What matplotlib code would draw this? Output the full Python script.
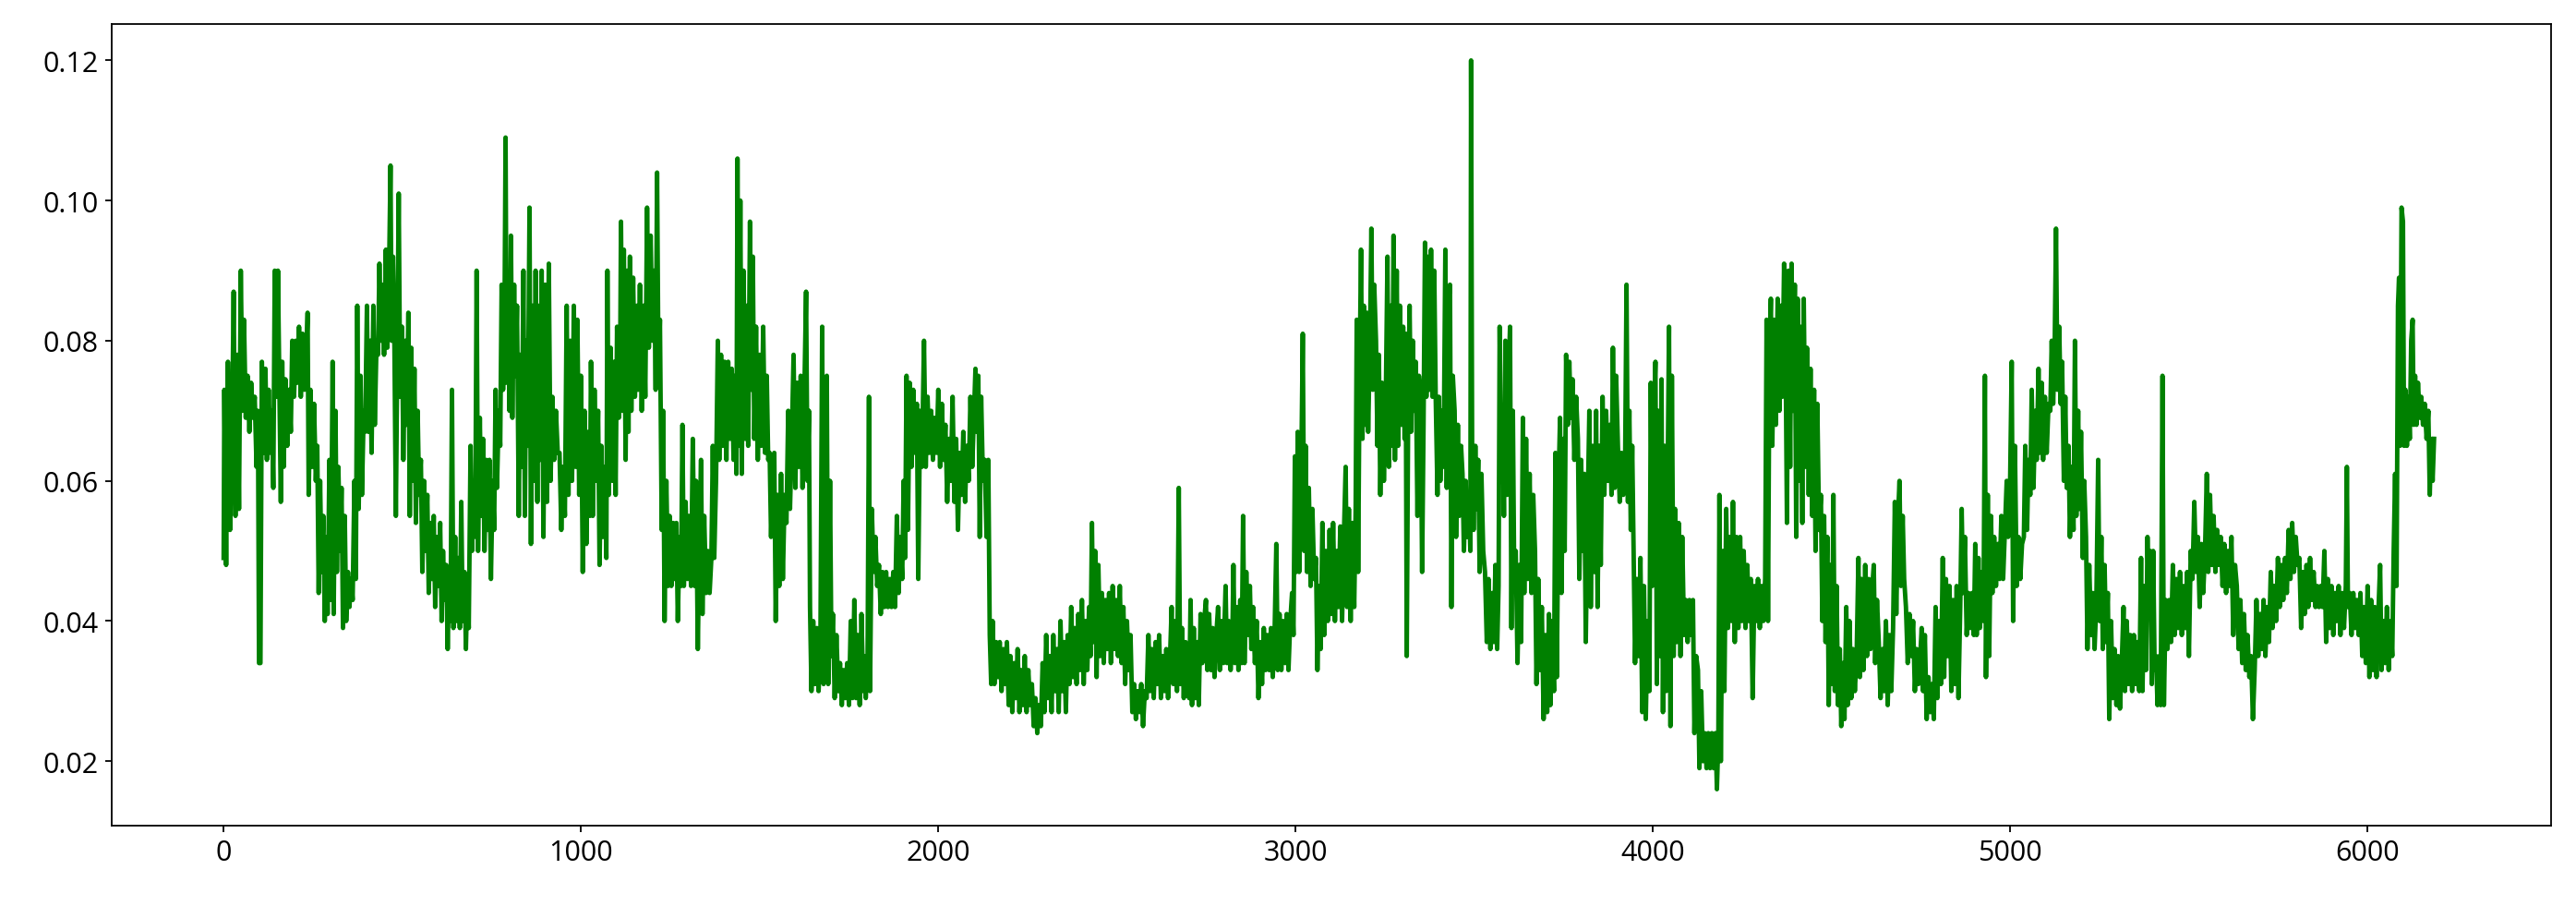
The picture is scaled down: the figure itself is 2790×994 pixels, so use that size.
import numpy as np
import matplotlib
matplotlib.use("Agg")
import matplotlib.pyplot as plt

# Series, split by stretch of the x axis.
# Each entry is (sample index, value); the values alternate between the
# upper and lower edge of the noisy band.
seg_0000 = [
    (0, .049), (2, .073), (7, .048), (12, .077), (18, .053), (24, .069), (28, .087), (33, .055),
    (38, .078), (43, .056), (48, .090), (53, .070), (57, .083), (62, .069), (67, .075), (72, .067),
    (77, .074), (82, .069), (87, .072), (92, .062), (96, .070), (99, .034), (103, .034), (107, .077),
    (112, .064), (117, .076), (121, .063), (126, .073), (131, .064), (135, .070), (139, .059), (143, .090),
    (148, .072), (152, .090), (156, .073), (160, .057), (164, .077), (168, .062), (173, .0745), (178, .065),
    (183, .073), (188, .067), (192, .080), (197, .072), (202, .080), (206, .074), (211, .082), (216, .072),
    (221, .081), (226, .073), (231, .077), (235, .084), (238, .058), (243, .073), (248, .062), (253, .071),
    (258, .060), (262, .065), (266, .044), (270, .060), (274, .047), (279, .055), (283, .040), (287, .052),
    (291, .041), (296, .063), (300, .043), (305, .077), (308, .041), (313, .070), (317, .047), (321, .062),
    (326, .050), (330, .059), (334, .039), (339, .055), (343, .040), (348, .047), (352, .042), (357, .046),
    (361, .043), (366, .060), (370, .046), (374, .085), (378, .056), (383, .075), (387, .058), (392, .070),
    (396, .067), (401, .085), (405, .067), (410, .080), (414, .064), (419, .085), (423, .068), (428, .080),
    (432, .078), (436, .091), (440, .080), (445, .088), (449, .078), (454, .093), (458, .079), (463, .090),
    (467, .105), (470, .080), (474, .092), (478, .079), (482, .055), (486, .078), (490, .101), (494, .072),
    (499, .082), (503, .063), (508, .080), (512, .068), (517, .084), (521, .055), (525, .079), (530, .060),
    (534, .076), (538, .054), (543, .070), (547, .058), (552, .063), (556, .047), (561, .060), (565, .050),
    (570, .058), (574, .044), (579, .054), (583, .046), (588, .055), (592, .042), (597, .052), (601, .045),
    (606, .054), (610, .040), (614, .050), (618, .043), (623, .048), (627, .036), (631, .046), (635, .040),
    (639, .073), (643, .039), (648, .052), (652, .040), (657, .049), (661, .039), (665, .057), (669, .040),
    (674, .047), (678, .036), (682, .045), (686, .039), (691, .065), (695, .050), (700, .060), (704, .052),
    (708, .090), (712, .050), (717, .069), (721, .055), (726, .066), (730, .050), (735, .063), (739, .053),
    (744, .063), (748, .046), (753, .060), (757, .053), (761, .073), (765, .059), (770, .070), (774, .065),
    (778, .088), (782, .073), (786, .083), (789, .109), (792, .074), (796, .085), (800, .070), (804, .095),
    (808, .069), (813, .088), (817, .075), (821, .085), (826, .055), (830, .078), (834, .062), (839, .090),
    (843, .055), (847, .080), (851, .065), (856, .099), (860, .051), (864, .085), (869, .060), (873, .090),
    (878, .057), (882, .085), (886, .063),
]

seg_0890 = [
    (890, .090), (895, .052), (900, .088), (905, .057), (910, .091), (915, .060), (920, .072), (925, .063),
    (930, .070), (935, .064), (940, .064), (945, .053), (950, .062), (955, .055), (960, .085), (965, .058),
    (970, .080), (975, .060), (980, .085), (985, .062), (990, .083), (995, .058), (1000, .075), (1005, .047),
    (1010, .070), (1015, .051), (1020, .067), (1025, .055), (1028, .077), (1033, .055), (1038, .073), (1043, .060),
    (1048, .070), (1052, .048), (1057, .065), (1062, .052), (1067, .062), (1071, .049), (1074, .090), (1078, .058),
    (1083, .079), (1088, .060), (1093, .077), (1097, .058), (1101, .082), (1106, .069), (1110, .080), (1112, .097),
    (1116, .070), (1120, .093), (1125, .063), (1129, .090), (1133, .067), (1137, .092), (1141, .070), (1146, .089),
    (1151, .072), (1156, .085), (1160, .073), (1165, .088), (1170, .070), (1175, .085), (1180, .072), (1185, .099),
    (1190, .079), (1195, .095), (1200, .080), (1205, .090), (1209, .073), (1213, .104), (1217, .075), (1221, .083),
    (1226, .053), (1230, .070), (1234, .040), (1239, .060), (1244, .045), (1248, .055), (1253, .045), (1258, .054),
    (1262, .046), (1267, .054), (1271, .040), (1276, .052), (1280, .045), (1284, .068), (1288, .045), (1293, .057),
    (1298, .046), (1303, .055), (1308, .045), (1313, .066), (1318, .045), (1322, .060), (1327, .036), (1331, .050),
    (1336, .063), (1340, .041), (1345, .055), (1350, .044), (1355, .050), (1360, .044), (1365, .049), (1369, .065),
    (1373, .049), (1378, .060), (1383, .080), (1387, .063), (1392, .078), (1397, .065), (1402, .077), (1407, .063),
    (1412, .077), (1417, .066), (1422, .076), (1427, .063), (1432, .075), (1435, .061), (1438, .106), (1442, .065),
    (1446, .100), (1450, .061), (1455, .090), (1460, .066), (1464, .085), (1468, .065), (1473, .097), (1477, .073),
    (1481, .092), (1485, .066), (1490, .082), (1495, .063), (1500, .078), (1505, .065), (1510, .082), (1515, .064),
    (1520, .075), (1524, .063), (1528, .064), (1532, .052), (1537, .062), (1541, .064), (1545, .040), (1550, .058),
    (1555, .045), (1560, .061), (1565, .046), (1570, .058), (1575, .054), (1580, .070), (1585, .056), (1590, .066),
    (1595, .078), (1600, .059), (1605, .074), (1610, .062), (1615, .075), (1620, .059), (1625, .072), (1630, .087),
    (1634, .060), (1638, .070), (1641, .042), (1645, .030), (1650, .040), (1655, .031), (1660, .039), (1665, .030),
    (1670, .036), (1675, .082), (1679, .031), (1684, .070), (1688, .075), (1692, .031), (1697, .060), (1701, .035),
    (1705, .041), (1710, .029), (1715, .038), (1720, .030), (1725, .034), (1730, .028), (1735, .033), (1740, .029),
    (1745, .034), (1750, .028), (1755, .040), (1760, .029), (1765, .043), (1770, .029), (1775, .038), (1780, .028),
    (1785, .041), (1790, .030),
]

seg_1794 = [
    (1794, .035), (1797, .029), (1802, .034), (1806, .072), (1809, .030), (1814, .056), (1819, .047), (1824, .052),
    (1829, .045), (1834, .048), (1839, .041), (1844, .047), (1849, .042), (1854, .047), (1859, .042), (1864, .046),
    (1869, .042), (1874, .047), (1879, .042), (1884, .055), (1889, .044), (1894, .052), (1899, .046), (1903, .060),
    (1907, .049), (1911, .075), (1915, .053), (1920, .074), (1925, .062), (1930, .073), (1935, .064), (1940, .071),
    (1944, .046), (1949, .070), (1954, .062), (1960, .080), (1965, .062), (1970, .072), (1975, .064), (1980, .070),
    (1985, .063), (1990, .069), (1995, .064), (2000, .073), (2005, .062), (2010, .071), (2015, .063), (2020, .068),
    (2025, .057), (2030, .066), (2035, .060), (2040, .072), (2045, .057), (2050, .066), (2055, .053), (2060, .064),
    (2065, .058), (2070, .067), (2075, .057), (2080, .065), (2085, .060), (2090, .072), (2095, .062), (2100, .070),
    (2104, .076), (2108, .067), (2112, .075), (2116, .052), (2120, .072), (2125, .060), (2130, .063), (2135, .052),
    (2140, .063), (2144, .038), (2148, .031), (2152, .040), (2157, .031), (2162, .037), (2167, .032), (2172, .037),
    (2177, .030), (2182, .036), (2187, .031), (2192, .037), (2197, .028), (2202, .035), (2207, .027), (2212, .034),
    (2217, .029), (2222, .036), (2227, .027), (2232, .033), (2237, .028), (2242, .035), (2247, .027), (2252, .033),
    (2257, .028), (2262, .031), (2267, .025), (2272, .029), (2277, .024), (2282, .028), (2287, .025), (2292, .034),
    (2297, .027), (2302, .038), (2307, .029), (2312, .035), (2317, .027), (2322, .038), (2327, .030), (2332, .036),
    (2337, .027), (2342, .040), (2347, .030), (2352, .037), (2357, .027), (2362, .038), (2367, .031), (2372, .042),
    (2377, .032), (2382, .039), (2387, .031), (2392, .041), (2397, .033), (2402, .043), (2407, .031), (2412, .040),
    (2417, .033), (2422, .042), (2426, .035), (2430, .054), (2434, .037), (2439, .050), (2443, .032), (2448, .048),
    (2453, .035), (2458, .044), (2463, .034), (2468, .043), (2473, .036), (2478, .044), (2483, .034), (2488, .045),
    (2493, .036), (2498, .043), (2503, .035), (2508, .045), (2513, .034), (2518, .042), (2523, .031), (2528, .040),
    (2533, .033), (2538, .038), (2543, .027), (2548, .031), (2553, .026), (2558, .030), (2563, .027), (2568, .031),
    (2573, .025), (2578, .030), (2583, .029), (2588, .038), (2593, .030), (2598, .036), (2603, .029), (2608, .037),
    (2613, .031), (2618, .038), (2623, .029), (2628, .035), (2633, .030), (2638, .036), (2643, .029), (2648, .034),
    (2653, .042), (2658, .031), (2663, .040), (2668, .030), (2673, .059), (2677, .031), (2682, .039), (2687, .029),
    (2692, .037),
]

seg_2698 = [
    (2698, .035), (2702, .029), (2706, .043), (2710, .028), (2715, .039), (2720, .029), (2725, .037), (2729, .028),
    (2734, .041), (2739, .034), (2744, .040), (2749, .043), (2753, .033), (2758, .041), (2763, .033), (2768, .039),
    (2773, .032), (2778, .038), (2783, .042), (2788, .033), (2793, .040), (2798, .034), (2804, .045), (2808, .034),
    (2813, .040), (2818, .033), (2823, .038), (2826, .048), (2830, .034), (2835, .042), (2840, .033), (2845, .043),
    (2849, .034), (2853, .055), (2857, .034), (2862, .047), (2867, .038), (2872, .045), (2876, .036), (2881, .042),
    (2886, .034), (2891, .040), (2896, .029), (2901, .037), (2906, .031), (2911, .039), (2916, .033), (2921, .038),
    (2926, .033), (2931, .039), (2936, .032), (2941, .038), (2946, .051), (2950, .033), (2955, .041), (2960, .033),
    (2965, .040), (2970, .034), (2975, .041), (2980, .033), (2985, .040), (2990, .044), (2994, .038), (2998, .0635),
    (3002, .047), (3006, .067), (3010, .047), (3015, .058), (3020, .081), (3024, .050), (3028, .065), (3032, .047),
    (3037, .059), (3042, .045), (3047, .056), (3052, .046), (3057, .049), (3061, .033), (3066, .045), (3070, .036),
    (3075, .054), (3080, .038), (3085, .050), (3090, .040), (3095, .053), (3100, .041), (3105, .054), (3110, .040),
    (3115, .050), (3120, .042), (3125, .0535), (3130, .040), (3135, .052), (3140, .062), (3144, .042), (3149, .056),
    (3154, .040), (3159, .054), (3164, .042), (3168, .056), (3171, .083), (3175, .047), (3179, .075), (3183, .093),
    (3187, .066), (3191, .085), (3195, .068), (3199, .084), (3203, .067), (3208, .080), (3212, .096), (3216, .073),
    (3220, .088), (3225, .080), (3229, .065), (3233, .078), (3237, .058), (3242, .074), (3247, .060), (3252, .070),
    (3257, .092), (3261, .062), (3266, .085), (3270, .065), (3274, .095), (3278, .063), (3283, .090), (3287, .065),
    (3292, .085), (3296, .068), (3301, .082), (3305, .066), (3308, .081), (3311, .035), (3315, .070), (3319, .085),
    (3323, .067), (3328, .080), (3332, .070), (3336, .077), (3341, .055), (3345, .075), (3350, .072), (3354, .047),
    (3358, .068), (3362, .094), (3366, .072), (3370, .092), (3375, .073), (3379, .093), (3383, .072), (3388, .090),
    (3392, .072), (3397, .058), (3401, .072), (3405, .060), (3410, .070), (3414, .062), (3419, .093), (3423, .059),
    (3427, .085), (3432, .088), (3436, .042), (3440, .075), (3445, .070), (3449, .052), (3454, .068), (3458, .055),
    (3463, .065), (3467, .061), (3471, .050), (3476, .060), (3480, .052), (3485, .058), (3489, .050), (3491, .120),
    (3494, .064), (3498, .053), (3503, .065), (3507, .056), (3511, .063), (3515, .047), (3520, .061), (3525, .050),
    (3530, .047), (3535, .037), (3540, .046), (3545, .036), (3550, .044), (3555, .037), (3559, .048), (3564, .036),
    (3568, .045), (3571, .082), (3575, .060), (3579, .070), (3583, .055), (3587, .080), (3592, .058), (3596, .075),
]

seg_3600 = [
    (3600, .082), (3604, .039), (3608, .070), (3612, .045), (3616, .050), (3621, .034), (3626, .048), (3631, .037),
    (3636, .069), (3640, .044), (3645, .066), (3650, .046), (3655, .061), (3660, .044), (3665, .058), (3670, .050),
    (3674, .031), (3679, .046), (3684, .033), (3689, .042), (3694, .026), (3699, .038), (3704, .027), (3709, .041),
    (3713, .028), (3718, .040), (3723, .030), (3727, .064), (3731, .032), (3736, .060), (3740, .069), (3744, .044),
    (3749, .066), (3753, .050), (3757, .078), (3762, .068), (3766, .077), (3770, .069), (3775, .0745), (3780, .063),
    (3785, .072), (3790, .066), (3794, .046), (3799, .063), (3803, .050), (3808, .061), (3812, .037), (3817, .055),
    (3822, .070), (3826, .042), (3831, .065), (3836, .047), (3841, .070), (3845, .042), (3850, .065), (3854, .048),
    (3859, .072), (3864, .058), (3869, .070), (3874, .060), (3879, .068), (3884, .058), (3888, .079), (3893, .059),
    (3897, .075), (3902, .065), (3907, .057), (3912, .064), (3917, .058), (3922, .062), (3926, .088), (3930, .057),
    (3934, .070), (3938, .053), (3942, .065), (3946, .049), (3950, .034), (3955, .046), (3960, .035), (3965, .049),
    (3970, .027), (3975, .045), (3980, .026), (3985, .040), (3990, .030), (3994, .074), (3998, .045), (4003, .070),
    (4007, .077), (4011, .031), (4015, .070), (4020, .035), (4024, .0745), (4028, .027), (4033, .065), (4037, .030),
    (4041, .060), (4045, .082), (4049, .025), (4053, .075), (4058, .035), (4062, .056), (4067, .037), (4072, .054),
    (4077, .035), (4082, .052), (4087, .038), (4092, .043), (4097, .037), (4102, .043), (4107, .038), (4112, .043),
    (4116, .024), (4121, .035), (4126, .033), (4130, .019), (4135, .030), (4140, .020), (4145, .024), (4150, .019),
    (4155, .024), (4160, .019), (4165, .024), (4170, .019), (4175, .024), (4179, .016), (4183, .023), (4186, .058),
    (4190, .020), (4195, .050), (4200, .030), (4205, .056), (4210, .039), (4215, .052), (4220, .040), (4224, .057),
    (4229, .037), (4234, .052), (4239, .039), (4244, .052), (4249, .040), (4254, .050), (4259, .039), (4264, .048),
    (4269, .040), (4274, .046), (4279, .029), (4284, .045), (4289, .040), (4294, .046), (4299, .039), (4304, .045),
    (4309, .040), (4314, .046), (4318, .083), (4322, .040), (4326, .078), (4330, .086), (4334, .065), (4339, .083),
    (4344, .068), (4349, .086), (4354, .070), (4358, .085), (4362, .072), (4367, .091), (4371, .080), (4375, .054),
    (4379, .090), (4384, .062), (4388, .091), (4392, .070), (4397, .088), (4401, .052), (4405, .086), (4410, .060),
    (4414, .082), (4418, .054), (4422, .086), (4427, .062), (4431, .079), (4436, .058), (4441, .076), (4446, .055),
    (4451, .073), (4455, .050), (4460, .071), (4465, .053), (4470, .058), (4474, .040), (4479, .055), (4483, .037),
    (4488, .052), (4492, .028), (4497, .048), (4501, .031),
]

seg_4505 = [
    (4505, .058), (4509, .030), (4514, .045), (4518, .028), (4523, .036), (4527, .025), (4532, .034), (4536, .026),
    (4541, .042), (4545, .028), (4550, .040), (4555, .029), (4560, .036), (4565, .030), (4570, .035), (4575, .049),
    (4579, .032), (4584, .046), (4589, .033), (4594, .048), (4599, .035), (4604, .046), (4609, .036), (4614, .045),
    (4618, .048), (4622, .034), (4627, .043), (4632, .037), (4637, .029), (4642, .036), (4647, .030), (4652, .040),
    (4657, .028), (4662, .038), (4667, .030), (4672, .039), (4677, .057), (4681, .041), (4686, .055), (4690, .060),
    (4694, .045), (4699, .055), (4703, .046), (4708, .042), (4713, .034), (4718, .041), (4723, .035), (4728, .040),
    (4733, .030), (4738, .036), (4743, .031), (4748, .035), (4752, .039), (4756, .030), (4761, .038), (4766, .026),
    (4771, .032), (4776, .027), (4781, .031), (4786, .026), (4791, .042), (4796, .029), (4801, .040), (4806, .031),
    (4811, .049), (4815, .032), (4820, .046), (4825, .035), (4830, .045), (4835, .030), (4840, .043), (4845, .031),
    (4850, .045), (4855, .029), (4860, .042), (4864, .056), (4868, .044), (4873, .052), (4878, .038), (4883, .044),
    (4888, .039), (4893, .044), (4898, .038), (4902, .051), (4906, .038), (4911, .049), (4915, .039), (4920, .047),
    (4925, .040), (4929, .075), (4932, .032), (4937, .058), (4941, .035), (4946, .055), (4950, .044), (4955, .052),
    (4960, .045), (4965, .051), (4970, .046), (4975, .055), (4980, .046), (4985, .053), (4990, .060), (4994, .052),
    (4999, .058), (5004, .077), (5008, .040), (5013, .065), (5018, .045), (5023, .052), (5028, .046), (5033, .051),
    (5038, .052), (5042, .065), (5047, .053), (5051, .063), (5056, .058), (5060, .073), (5065, .059), (5070, .070),
    (5074, .063), (5079, .076), (5083, .064), (5088, .074), (5092, .063), (5097, .072), (5102, .064), (5107, .071),
    (5112, .070), (5116, .080), (5120, .071), (5124, .078), (5128, .096), (5132, .073), (5137, .082), (5141, .071),
    (5145, .077), (5150, .060), (5154, .072), (5158, .059), (5163, .065), (5167, .052), (5172, .062), (5177, .053),
    (5181, .080), (5185, .055), (5190, .070), (5194, .056), (5198, .067), (5203, .049), (5207, .060), (5212, .052),
    (5216, .036), (5221, .048), (5226, .038), (5231, .044), (5236, .036), (5241, .043), (5246, .063), (5250, .040),
    (5255, .052), (5259, .036), (5264, .048), (5268, .037), (5273, .044), (5277, .026), (5282, .040), (5287, .029),
    (5292, .036), (5297, .028), (5302, .035), (5307, .0275), (5312, .034), (5317, .042), (5321, .030), (5326, .040),
    (5331, .031), (5336, .038), (5341, .030), (5346, .038), (5351, .031), (5356, .037), (5361, .030), (5366, .049),
    (5370, .030), (5375, .045), (5380, .033), (5384, .052), (5388, .041), (5392, .050), (5396, .031), (5400, .050),
    (5404, .033),
]

seg_5408 = [
    (5408, .035), (5412, .028), (5417, .035), (5421, .028), (5426, .075), (5430, .028), (5435, .043), (5440, .036),
    (5445, .043), (5450, .037), (5455, .048), (5460, .038), (5465, .046), (5470, .039), (5475, .047), (5480, .038),
    (5485, .045), (5490, .039), (5495, .047), (5500, .035), (5505, .050), (5510, .046), (5515, .057), (5520, .047),
    (5525, .052), (5530, .042), (5535, .051), (5540, .044), (5545, .050), (5550, .061), (5554, .047), (5559, .058),
    (5564, .048), (5569, .055), (5574, .047), (5579, .053), (5584, .048), (5589, .052), (5594, .045), (5599, .051),
    (5604, .044), (5609, .050), (5614, .045), (5619, .052), (5624, .038), (5629, .048), (5634, .045), (5639, .036),
    (5644, .043), (5649, .034), (5654, .041), (5659, .033), (5664, .038), (5669, .032), (5674, .035), (5679, .026),
    (5684, .033), (5689, .043), (5694, .035), (5699, .041), (5704, .036), (5709, .043), (5714, .035), (5719, .042),
    (5724, .037), (5729, .047), (5734, .039), (5739, .045), (5744, .040), (5749, .049), (5754, .042), (5759, .048),
    (5764, .043), (5769, .049), (5774, .044), (5779, .053), (5784, .046), (5789, .054), (5794, .047), (5799, .052),
    (5804, .048), (5809, .049), (5814, .039), (5819, .047), (5824, .041), (5829, .048), (5834, .042), (5839, .049),
    (5844, .043), (5849, .047), (5854, .042), (5859, .045), (5864, .042), (5869, .045), (5874, .042), (5879, .050),
    (5884, .037), (5889, .046), (5894, .039), (5899, .045), (5904, .038), (5909, .044), (5914, .040), (5919, .045),
    (5924, .038), (5929, .044), (5934, .039), (5939, .045), (5942, .062), (5945, .042), (5950, .044), (5955, .038),
    (5960, .044), (5965, .039), (5970, .043), (5975, .038), (5980, .044), (5985, .035), (5990, .042), (5995, .034),
    (6000, .045), (6005, .032), (6010, .043), (6015, .033), (6020, .042), (6025, .032), (6030, .041), (6035, .048),
    (6039, .033), (6044, .040), (6049, .034), (6054, .042), (6059, .033), (6064, .040), (6069, .035), (6073, .050),
    (6077, .061), (6081, .045), (6085, .085), (6088, .089), (6091, .065), (6095, .099), (6099, .097), (6102, .065),
    (6106, .073), (6110, .065), (6114, .072), (6118, .066), (6122, .080), (6126, .083), (6129, .068), (6133, .075),
    (6137, .068), (6141, .074), (6146, .069), (6150, .072), (6155, .068), (6160, .071), (6165, .066), (6170, .070),
    (6174, .058), (6178, .066), (6182, .060), (6186, .066),
]

segments = [seg_0000, seg_0890, seg_1794, seg_2698, seg_3600, seg_4505, seg_5408]
x = np.array([p[0] for s in segments for p in s])
y = np.array([p[1] for s in segments for p in s])

plt.rcParams['font.family'] = ['Open Sans', 'DejaVu Sans']

fig = plt.figure(figsize=(27.9, 9.95), dpi=100)
ax = fig.add_axes([0.0434, 0.1005, 0.9470, 0.8724])
ax.plot(x, y, color='green', linewidth=3.5)

ax.set_xlim(-313, 6514)
ax.set_xticks([0, 1000, 2000, 3000, 4000, 5000, 6000])
ax.set_yticks([0.02, 0.04, 0.06, 0.08, 0.10, 0.12])
ax.tick_params(labelsize=22, length=5.2, width=1.3, pad=5.2)
for sp in ax.spines.values():
    sp.set_linewidth(1.3)

fig.savefig('out.png', dpi=100)
